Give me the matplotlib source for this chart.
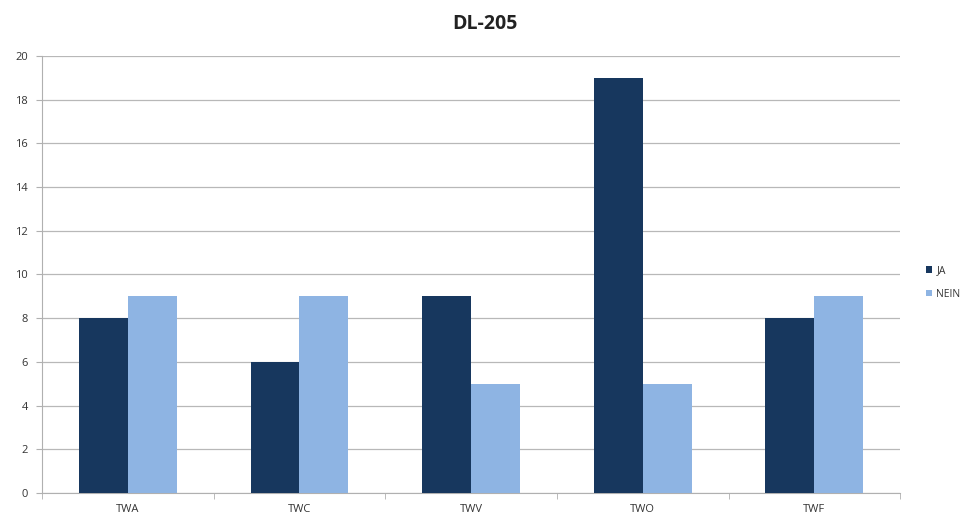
import matplotlib.pyplot as plt
import numpy as np

categories = ['TWA', 'TWC', 'TWV', 'TWO', 'TWF']
ja = [8, 6, 9, 19, 8]
nein = [9, 9, 5, 5, 9]

plt.rcParams['font.family'] = ['Open Sans', 'DejaVu Sans']

fig = plt.figure(figsize=(9.7, 5.23), dpi=100)
ax = fig.add_axes([0.0433, 0.0574, 0.8847, 0.8356])

x = np.arange(len(categories))
w = 0.285
dark = '#17375E'
light = '#8EB4E3'
ax.bar(x - w / 2, ja, width=w, color=dark, label='JA', zorder=3)
ax.bar(x + w / 2, nein, width=w, color=light, label='NEIN', zorder=3)

ax.set_xlim(-0.5, len(categories) - 0.5)
ax.set_ylim(0, 20)
ax.set_yticks(range(0, 21, 2))
ax.set_xticks(x)
ax.set_xticklabels(categories)
ax.set_xticks(np.arange(-0.5, len(categories)), minor=True)
ax.tick_params(axis='x', which='major', length=0, pad=8, labelsize=8, labelcolor='#333333')
ax.tick_params(axis='x', which='minor', length=4, color='#b0b0b0', direction='out')
ax.tick_params(axis='y', length=4, color='#b0b0b0', labelsize=8, labelcolor='#333333', pad=6)

ax.grid(axis='y', color='#b8b8b8', linewidth=0.9, zorder=0)
for s in ['top', 'right']:
    ax.spines[s].set_visible(False)
ax.spines['left'].set_color('#b0b0b0')
ax.spines['bottom'].set_color('#b0b0b0')

fig.text(0.5, 0.955, 'DL-205', ha='center', va='center', fontsize=14, fontweight='bold', color='#222222')

leg = fig.legend(loc='center left', bbox_to_anchor=(0.945, 0.46), frameon=False,
                 fontsize=7.5, handlelength=0.6, handleheight=0.6, handletextpad=0.4,
                 labelspacing=1.2)
for t in leg.get_texts():
    t.set_color('#333333')

fig.savefig('out.png', dpi=100)
